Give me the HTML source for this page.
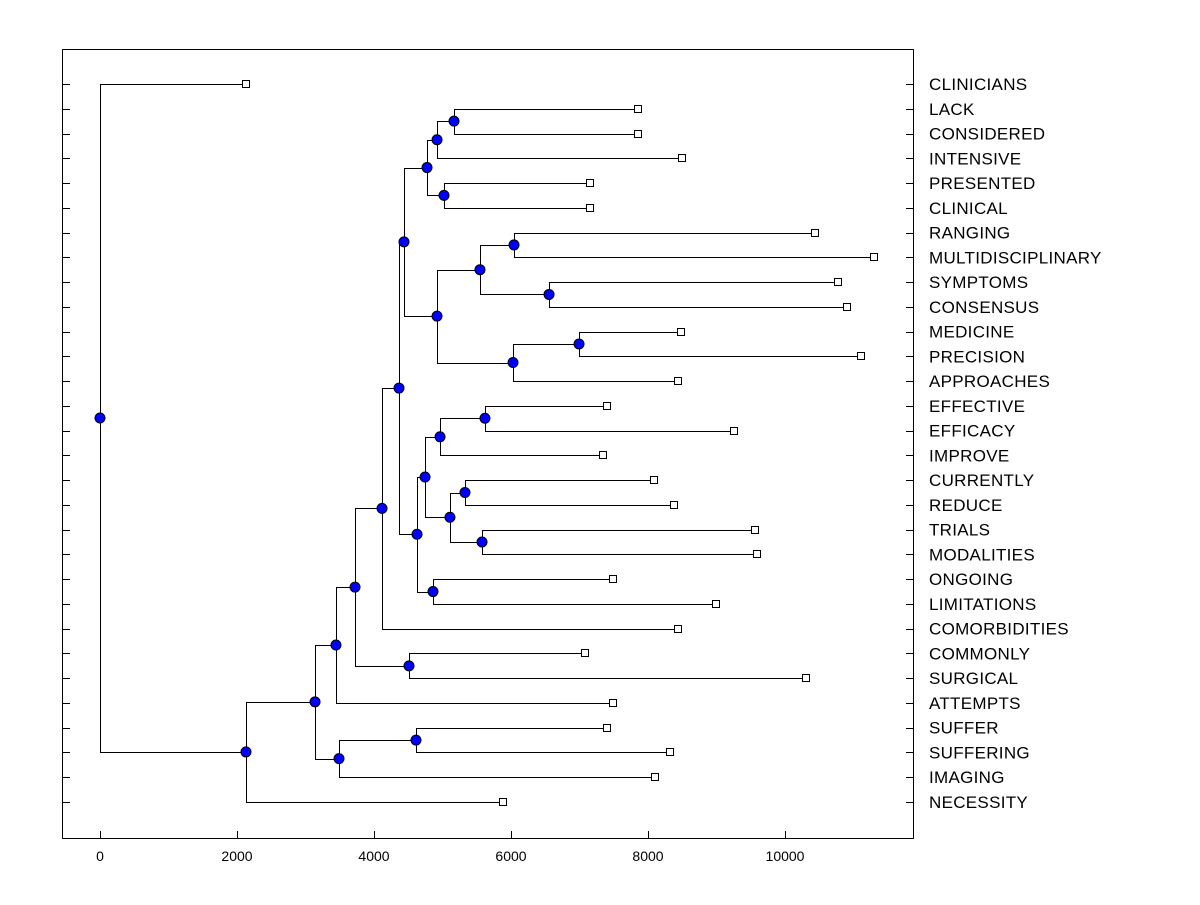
<!DOCTYPE html>
<html><head><meta charset="utf-8"><style>
body{margin:0;background:#fff}
svg text{font-family:"Liberation Sans",sans-serif}
</style></head><body>
<svg id="chart" width="1200" height="900" xmlns="http://www.w3.org/2000/svg"></svg>
<script>
const leafNames=["CLINICIANS","LACK","CONSIDERED","INTENSIVE","PRESENTED","CLINICAL","RANGING","MULTIDISCIPLINARY","SYMPTOMS","CONSENSUS","MEDICINE","PRECISION","APPROACHES","EFFECTIVE","EFFICACY","IMPROVE","CURRENTLY","REDUCE","TRIALS","MODALITIES","ONGOING","LIMITATIONS","COMORBIDITIES","COMMONLY","SURGICAL","ATTEMPTS","SUFFER","SUFFERING","IMAGING","NECESSITY"];
const leafHeights=[2131,7854,7854,8496,7153,7153,10438,11299,10774,10905,8482,11109,8438,7401,9255,7343,8088,8380,9562,9591,7489,8993,8438,7080,10307,7489,7401,8321,8102,5883];
const mergeNames=["A","B","C","D","E","F","G","H","I","J","K","L","M","N","O","P","Q","R","S","T","U","V","W","X","Y","Z","AA","BB","ROOT"];
const mergeLeft=["LACK","A","PRESENTED","B","RANGING","SYMPTOMS","E","MEDICINE","H","G","D","EFFECTIVE","L","CURRENTLY","TRIALS","N","M","ONGOING","Q","K","T","COMMONLY","U","W","SUFFER","Y","X","AA","CLINICIANS"];
const mergeRight=["CONSIDERED","INTENSIVE","CLINICAL","C","MULTIDISCIPLINARY","CONSENSUS","F","PRECISION","APPROACHES","I","J","EFFICACY","IMPROVE","REDUCE","MODALITIES","O","P","LIMITATIONS","R","S","COMORBIDITIES","SURGICAL","V","ATTEMPTS","SUFFERING","IMAGING","Z","NECESSITY","BB"];
const mergeHeights=[5168,4920,5022,4774,6044,6555,5547,6993,6029,4920,4438,5620,4964,5328,5577,5109,4745,4861,4628,4365,4117,4511,3723,3445,4613,3489,3139,2131,0];
const xTicks=[0,2000,4000,6000,8000,10000];

const NS="http://www.w3.org/2000/svg";
const svg=document.getElementById('chart');
const X=v=>100+v*0.0685;
function Y(i){return 84+i*718/29;}
function mk(t,a){const e=document.createElementNS(NS,t);for(const k in a)e.setAttribute(k,a[k]);svg.appendChild(e);return e;}

const frame=mk('rect',{x:62.5,y:49.5,width:851,height:789,fill:'none',stroke:'#000'});



const pos={};
leafNames.forEach((n,i)=>{pos[n]={x:X(leafHeights[i]),y:Y(i)};});
mergeNames.forEach((n,i)=>{const a=pos[mergeLeft[i]],b=pos[mergeRight[i]];pos[n]={x:X(mergeHeights[i]),y:(a.y+b.y)/2};});

leafNames.forEach((n,i)=>{
  const y=Math.round(Y(i))+0.5;
  mk('line',{x1:63,x2:70,y1:y,y2:y,stroke:'#000'});
  mk('line',{x1:906,x2:913,y1:y,y2:y,stroke:'#000'});
  const t=mk('text',{x:929,y:Y(i)+6,'font-size':17,'letter-spacing':0.3});
  t.textContent=n;
  
  
});
xTicks.forEach(v=>{
  const x=Math.round(X(v))+0.5;
  mk('line',{x1:x,x2:x,y1:831,y2:838,stroke:'#000'});
  const t=mk('text',{x:X(v),y:861,'font-size':14,'text-anchor':'middle'});
  t.textContent=v;
  
  
});
mergeNames.forEach((n,i)=>{
  const p=pos[n],a=pos[mergeLeft[i]],b=pos[mergeRight[i]];
  const px=Math.round(p.x)+0.5;
  const l=mk('path',{d:`M${Math.round(a.x)+0.5},${Math.round(a.y)+0.5}H${px}V${Math.round(b.y)+0.5}H${Math.round(b.x)+0.5}`,fill:'none',stroke:'#000'});
  
  
});
leafNames.forEach(n=>{
  const p=pos[n];
  const r=mk('rect',{x:Math.round(p.x)-3.5,y:Math.round(p.y)-3.5,width:7,height:7,fill:'#fff',stroke:'#000'});
  
  
});
mergeNames.forEach(n=>{
  const p=pos[n];
  const c=mk('circle',{cx:p.x,cy:p.y,r:5,fill:'#0000ff',stroke:'#000'});
  
  
});
</script>
</body></html>
